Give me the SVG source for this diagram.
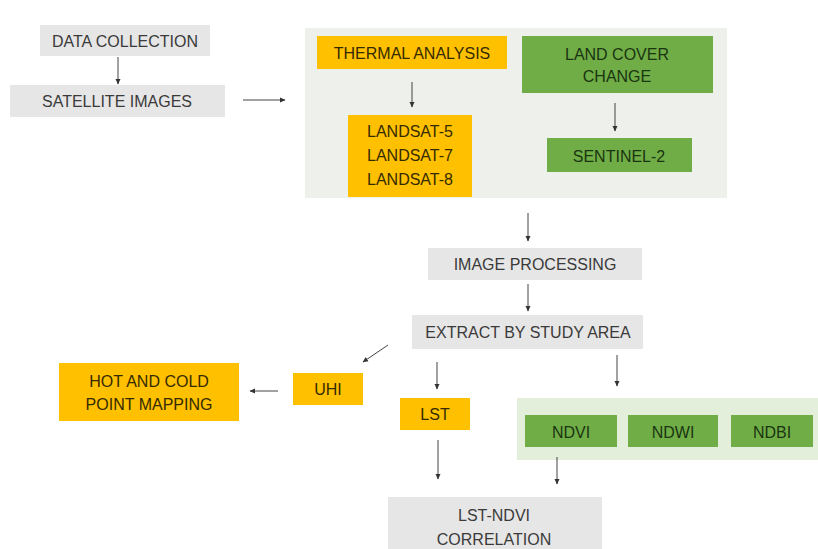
<svg xmlns="http://www.w3.org/2000/svg" width="818" height="549" viewBox="0 0 818 549">
<defs>
<marker id="ah" markerWidth="6" markerHeight="6" refX="5" refY="3" orient="auto" markerUnits="userSpaceOnUse">
<path d="M0,0.5 L5.5,3 L0,5.5 Z" fill="#333"/>
</marker>
<style>
.gray{fill:#e6e6e6}
.org{fill:#ffc000}
.grn{fill:#70ad47}
.panel{fill:#eef0eb}
.gpanel{fill:#e3efda}
text{font-family:"Liberation Sans","Open Sans",Arial,sans-serif;font-size:16px;text-anchor:middle;dominant-baseline:central}
.tg{fill:#3a3a3a}
.to{fill:#352b00}
.tn{fill:#1a3510}
.c{stroke:#444;stroke-width:1;fill:none;marker-end:url(#ah)}
</style>
</defs>
<rect width="818" height="549" fill="#ffffff"/>
<rect class="panel" x="305" y="28" width="422" height="170"/>
<rect class="gpanel" x="517" y="398" width="301" height="62"/>

<g id="data-collection"><rect class="gray" x="40" y="25" width="170" height="31"/><text class="tg" x="125" y="41">DATA COLLECTION</text></g>
<g id="satellite-images"><rect class="gray" x="10" y="85" width="215" height="32"/><text class="tg" x="117" y="101">SATELLITE IMAGES</text></g>
<g id="thermal-analysis"><rect class="org" x="317" y="36" width="190" height="33"/><text class="to" x="412" y="53">THERMAL ANALYSIS</text></g>
<g id="landsat"><rect class="org" x="348" y="115" width="124" height="82"/><text class="to" x="410" y="131">LANDSAT-5</text><text class="to" x="410" y="155">LANDSAT-7</text><text class="to" x="410" y="179">LANDSAT-8</text></g>
<g id="land-cover-change"><rect class="grn" x="522" y="36" width="191" height="57"/><text class="tn" x="617" y="54">LAND COVER</text><text class="tn" x="617" y="76">CHANGE</text></g>
<g id="sentinel-2"><rect class="grn" x="547" y="138" width="145" height="34"/><text class="tn" x="619" y="156">SENTINEL-2</text></g>
<g id="image-processing"><rect class="gray" x="428" y="248" width="214" height="32"/><text class="tg" x="535" y="264">IMAGE PROCESSING</text></g>
<g id="extract"><rect class="gray" x="412" y="315" width="231" height="34"/><text class="tg" x="528" y="332">EXTRACT BY STUDY AREA</text></g>
<g id="uhi"><rect class="org" x="293" y="373" width="70" height="32"/><text class="to" x="328" y="389">UHI</text></g>
<g id="hot-cold"><rect class="org" x="59" y="363" width="180" height="58"/><text class="to" x="149" y="381">HOT AND COLD</text><text class="to" x="149" y="404">POINT MAPPING</text></g>
<g id="lst"><rect class="org" x="400" y="398" width="70" height="32"/><text class="to" x="435" y="414">LST</text></g>
<g id="ndvi"><rect class="grn" x="525" y="415" width="92" height="32"/><text class="tn" x="571" y="432">NDVI</text></g>
<g id="ndwi"><rect class="grn" x="628" y="415" width="90" height="32"/><text class="tn" x="673" y="432">NDWI</text></g>
<g id="ndbi"><rect class="grn" x="731" y="415" width="82" height="32"/><text class="tn" x="772" y="432">NDBI</text></g>
<g id="lst-ndvi"><rect class="gray" x="388" y="497" width="214" height="52"/><text class="tg" x="494" y="515">LST-NDVI</text><text class="tg" x="494" y="539">CORRELATION</text></g>

<g id="connectors">
<line class="c" x1="118" y1="57" x2="118" y2="84"/>
<line class="c" x1="243" y1="100" x2="285" y2="100"/>
<line class="c" x1="412" y1="82" x2="412" y2="107"/>
<line class="c" x1="615" y1="103" x2="615" y2="131"/>
<line class="c" x1="528" y1="213" x2="528" y2="241"/>
<line class="c" x1="528" y1="284" x2="528" y2="311"/>
<line class="c" x1="388" y1="345" x2="363" y2="362"/>
<line class="c" x1="437" y1="362" x2="437" y2="389"/>
<line class="c" x1="617" y1="355" x2="617" y2="386"/>
<line class="c" x1="278" y1="391" x2="250" y2="391"/>
<line class="c" x1="438" y1="440" x2="438" y2="479"/>
<line class="c" x1="557" y1="457" x2="557" y2="484"/>
</g>
</svg>
